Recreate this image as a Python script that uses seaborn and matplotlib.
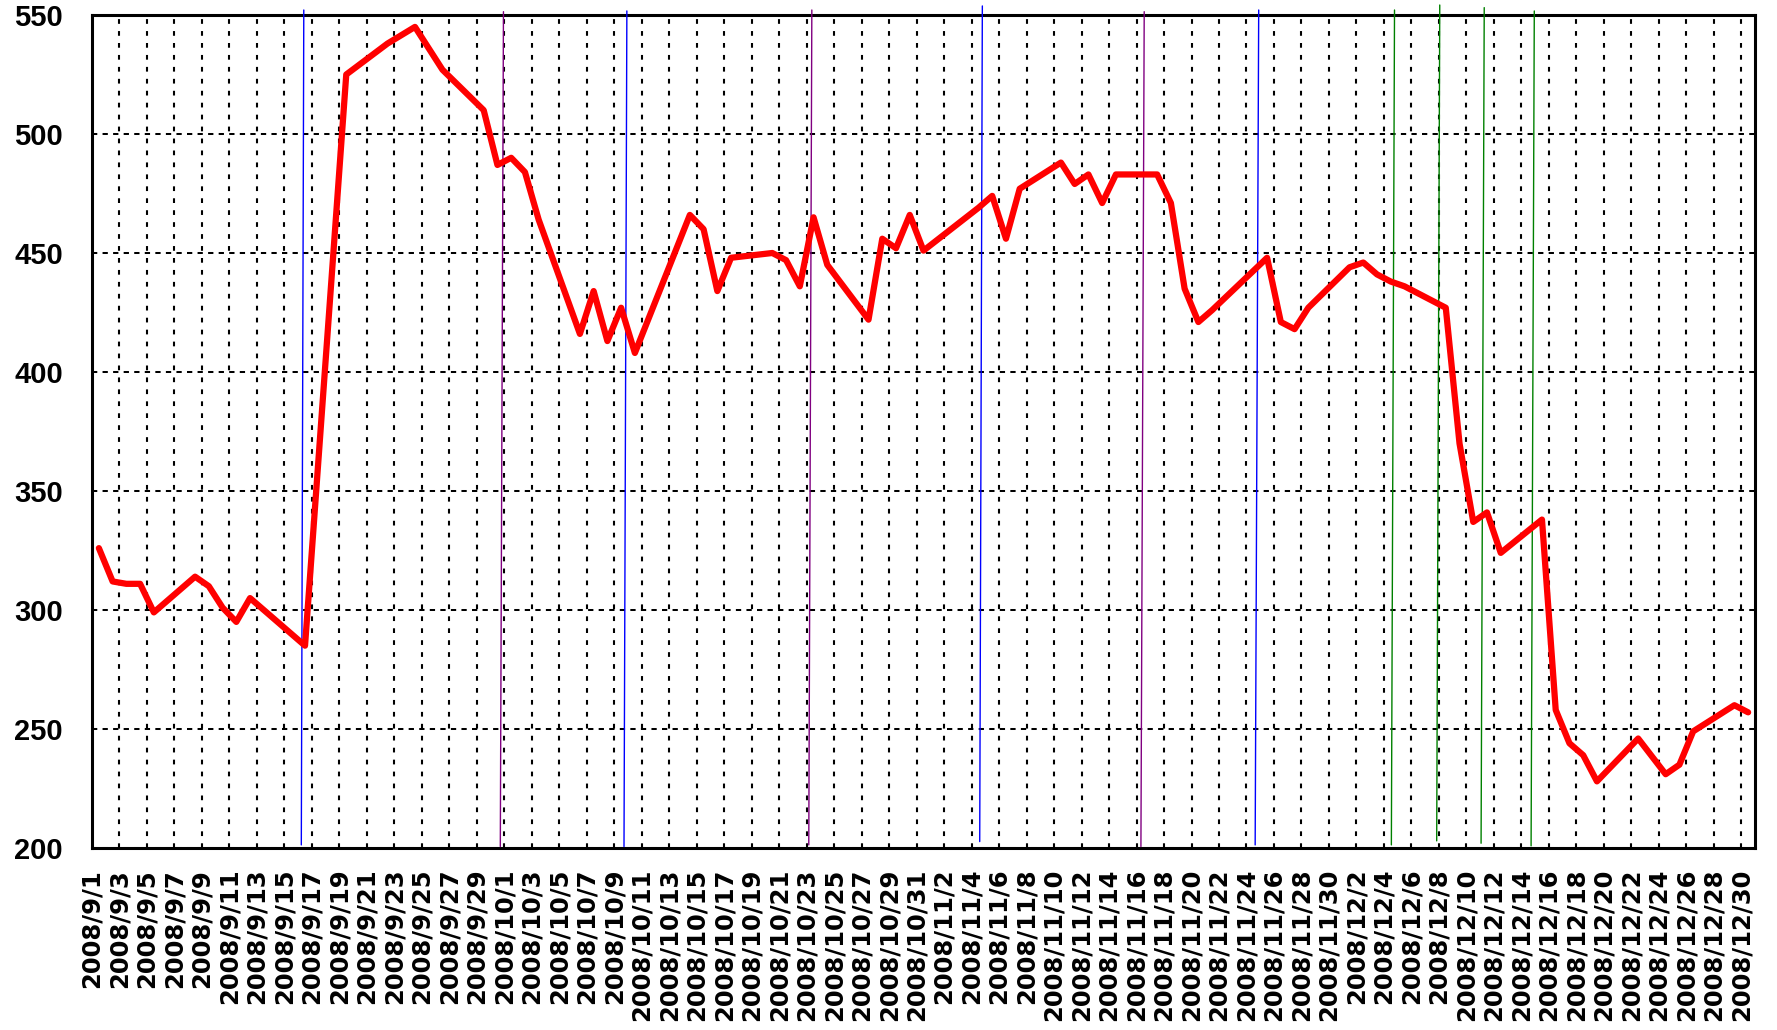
import matplotlib
matplotlib.use("Agg")
import matplotlib.pyplot as plt
import matplotlib.transforms as mtransforms
import seaborn as sns
import pandas as pd

# ---------------- data ----------------
sep_dates = ["2008-09-01", "2008-09-02", "2008-09-03", "2008-09-04", "2008-09-05",
             "2008-09-08", "2008-09-09", "2008-09-10", "2008-09-11", "2008-09-12",
             "2008-09-16", "2008-09-17", "2008-09-18", "2008-09-19", "2008-09-22",
             "2008-09-24", "2008-09-25", "2008-09-26", "2008-09-29", "2008-09-30"]
sep_prices = [326, 312, 311, 311, 299, 314, 310, 301, 295, 305,
              285, 365, 445, 525, 538, 545, 536, 527, 510, 487]

oct_dates = ["2008-10-01", "2008-10-02", "2008-10-03", "2008-10-06", "2008-10-07",
             "2008-10-08", "2008-10-09", "2008-10-10", "2008-10-14", "2008-10-15",
             "2008-10-16", "2008-10-17", "2008-10-20", "2008-10-21", "2008-10-22",
             "2008-10-23", "2008-10-24", "2008-10-27", "2008-10-28", "2008-10-29",
             "2008-10-30", "2008-10-31"]
oct_prices = [490, 484, 464, 416, 434, 413, 427, 408, 466, 460,
              434, 448, 450, 447, 436, 465, 445, 422, 456, 452, 466, 451]

nov_dates = ["2008-11-04", "2008-11-05", "2008-11-06", "2008-11-07", "2008-11-10",
             "2008-11-11", "2008-11-12", "2008-11-13", "2008-11-14", "2008-11-17",
             "2008-11-18", "2008-11-19", "2008-11-20", "2008-11-21", "2008-11-25",
             "2008-11-26", "2008-11-27", "2008-11-28"]
nov_prices = [469, 474, 456, 477, 488, 479, 483, 471, 483, 483,
              471, 435, 421, 426, 448, 421, 418, 427]

dec_dates = ["2008-12-01", "2008-12-02", "2008-12-03", "2008-12-04", "2008-12-05",
             "2008-12-08", "2008-12-09", "2008-12-10", "2008-12-11", "2008-12-12",
             "2008-12-15", "2008-12-16", "2008-12-17", "2008-12-18", "2008-12-19",
             "2008-12-22", "2008-12-24", "2008-12-25", "2008-12-26", "2008-12-29",
             "2008-12-30"]
dec_prices = [444, 446, 441, 438, 436, 427, 370, 337, 341, 324,
              338, 258, 244, 239, 228, 246, 231, 235, 249, 260, 257]

tick_dates = pd.date_range("2008-09-01", "2008-12-30", freq="2D")
tick_labels = [f"{d.year}/{d.month}/{d.day}" for d in tick_dates]
y_ticks = [200, 250, 300, 350, 400, 450, 500, 550]

# event marker lines (slightly slanted in the original)
event_colors = ["#0000FF", "#800080", "#0000FF", "#800080", "#0000FF", "#800080",
                "#0000FF", "#008000", "#008000", "#008000", "#008000"]
event_x_bottom = ["2008-09-16 05:30", "2008-09-30 17:00", "2008-10-09 17:00",
                  "2008-10-23 03:40", "2008-11-04 14:10", "2008-11-16 07:40",
                  "2008-11-24 15:10", "2008-12-04 13:00", "2008-12-07 20:10",
                  "2008-12-11 01:40", "2008-12-14 17:00"]
event_x_top = ["2008-09-16 09:50", "2008-09-30 22:30", "2008-10-09 22:00",
               "2008-10-23 09:00", "2008-11-04 18:45", "2008-11-16 13:25",
               "2008-11-24 21:20", "2008-12-04 18:30", "2008-12-08 01:30",
               "2008-12-11 07:10", "2008-12-14 22:35"]
event_y_bottom = [201.3, 200.6, 200.6, 201.3, 202.7, 200.6, 201.3, 201.3, 203.0, 202.0, 200.9]
event_y_top = [552.1, 551.4, 551.7, 552.1, 553.8, 551.4, 552.1, 552.1, 554.2, 553.1, 551.7]

# ---------------- style ----------------
sns.set_style("white")
plt.rcParams['font.family'] = ['DejaVu Sans']
plt.rcParams['lines.scale_dashes'] = False

W, H = 1777, 1030
fig = plt.figure(figsize=(W / 100, H / 100), dpi=100)
ax = fig.add_axes([92 / W, 1 - 848 / H, (1755 - 92) / W, (848 - 15) / H])

df = pd.DataFrame({
    "date": pd.to_datetime(sep_dates + oct_dates + nov_dates + dec_dates) + pd.Timedelta(hours=12),
    "price": sep_prices + oct_prices + nov_prices + dec_prices,
})

sns.lineplot(data=df, x="date", y="price", ax=ax, color="#FF0000",
             linewidth=4.5, zorder=4, sort=False)

for c, xb, xt, yb, yt in zip(event_colors, event_x_bottom, event_x_top,
                             event_y_bottom, event_y_top):
    ax.plot([pd.Timestamp(xb), pd.Timestamp(xt)], [yb, yt], color=c,
            linewidth=1.0, clip_on=False, zorder=3)

ax.set_xlim(pd.Timestamp("2008-09-01"), pd.Timestamp("2008-12-31"))
ax.set_ylim(200, 550)
ax.set_xticks(tick_dates)
ax.set_xticklabels(tick_labels, rotation=90, fontsize=17.5, fontweight="bold",
                   family="DejaVu Sans")
ax.set_yticks(y_ticks)
ax.set_yticklabels([str(v) for v in y_ticks], fontsize=21, fontweight="bold",
                   family="Liberation Sans")
ax.set_xlabel("")
ax.set_ylabel("")

shift = mtransforms.ScaledTranslation(0.045, 0, fig.dpi_scale_trans)
for lab in ax.get_xticklabels():
    lab.set_transform(lab.get_transform() + shift)

ax.xaxis.grid(True, color="black", linestyle=(0, (3.4, 5.2)), linewidth=1.5)
ax.yaxis.grid(True, color="black", linestyle=(0, (3.8, 3.8)), linewidth=1.45)
ax.set_axisbelow(True)

for s in ax.spines.values():
    s.set_visible(True)
    s.set_linewidth(2.2)
    s.set_color("black")

ax.tick_params(axis="both", direction="in", length=5, width=1.5, colors="black")
ax.tick_params(axis="x", pad=15)
ax.tick_params(axis="y", pad=21)

fig.savefig("out.png", dpi=100)
